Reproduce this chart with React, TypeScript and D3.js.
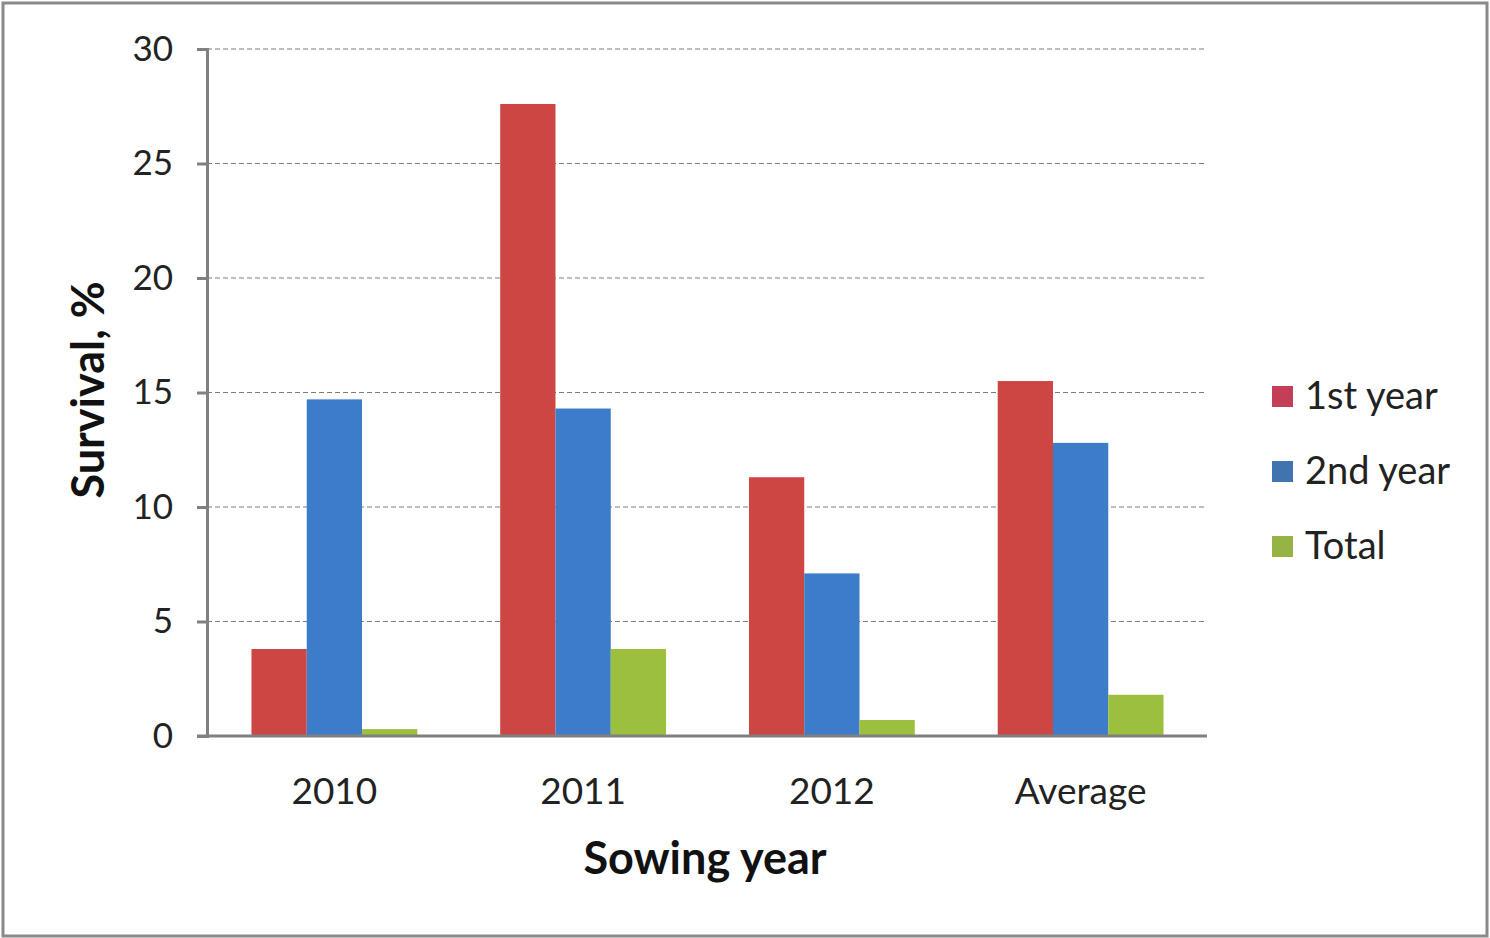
import React, { useEffect, useRef } from 'react';
import * as d3 from 'd3';

const categories = ['2010', '2011', '2012', 'Average'];
const seriesNames = ['1st year', '2nd year', 'Total'];
const firstYear = [3.8, 27.6, 11.3, 15.5];
const secondYear = [14.7, 14.3, 7.1, 12.8];
const total = [0.3, 3.8, 0.7, 1.8];
const yTicks = [0, 5, 10, 15, 20, 25, 30];

const colors = ['#cc4644', '#3d7cc8', '#9cbf3e'];
const legendColors = ['#c23f57', '#3f74ae', '#95b443'];

const App: React.FC = () => {
  const svgRef = useRef<SVGSVGElement>(null);

  useEffect(() => {
    if (!svgRef.current) return;
    const width = 1490;
    const height = 938;
    const font = 'Lato, "Open Sans", sans-serif';

    d3.select(svgRef.current).selectAll('*').remove();
    const svg = d3.select(svgRef.current).attr('width', width).attr('height', height);

    svg.append('rect').attr('width', width).attr('height', height).attr('fill', '#fff');
    // outer frame
    svg
      .append('rect')
      .attr('x', 3)
      .attr('y', 3)
      .attr('width', 1484)
      .attr('height', 933)
      .attr('fill', 'none')
      .attr('stroke', '#8a8a8a')
      .attr('stroke-width', 3);

    const left = 207;
    const right = 1205;
    const top = 49;
    const bottom = 736;

    const x = d3
      .scaleBand<string>()
      .domain(categories)
      .range([left + 3, right])
      .paddingInner(1 / 3)
      .paddingOuter(1 / 6);
    const xs = d3.scaleBand<string>().domain(seriesNames).range([0, x.bandwidth()]);
    const y = d3.scaleLinear().domain([0, 30]).range([bottom, top]);

    // gridlines
    svg
      .append('g')
      .selectAll('line')
      .data(yTicks.filter((t) => t > 0))
      .enter()
      .append('line')
      .attr('x1', left)
      .attr('x2', right)
      .attr('y1', (d) => y(d))
      .attr('y2', (d) => y(d))
      .attr('stroke', '#7c7c7c')
      .attr('stroke-width', 1.2)
      .attr('stroke-dasharray', '5,3');

    // bars
    const seriesData = [firstYear, secondYear, total];
    seriesData.forEach((vals, si) => {
      svg
        .append('g')
        .selectAll('rect')
        .data(vals)
        .enter()
        .append('rect')
        .attr('x', (_d, i) => (x(categories[i]) ?? 0) + (xs(seriesNames[si]) ?? 0))
        .attr('width', xs.bandwidth())
        .attr('y', (d) => y(d))
        .attr('height', (d) => y(0) - y(d))
        .attr('fill', colors[si]);
    });

    // y axis
    const yAxis = svg
      .append('g')
      .attr('transform', `translate(${left},0)`)
      .call(d3.axisLeft(y).tickValues(yTicks).tickSize(10).tickPadding(24));
    yAxis.select('.domain').attr('stroke', '#808080').attr('stroke-width', 3);
    yAxis.selectAll('.tick line').attr('stroke', '#808080').attr('stroke-width', 3);
    yAxis
      .selectAll('.tick text')
      .attr('font-family', font)
      .attr('font-size', 35)
      .attr('fill', '#222');

    // x axis
    svg
      .append('line')
      .attr('x1', left - 10)
      .attr('x2', right + 2)
      .attr('y1', bottom)
      .attr('y2', bottom)
      .attr('stroke', '#808080')
      .attr('stroke-width', 3);

    svg
      .append('g')
      .selectAll('text')
      .data(categories)
      .enter()
      .append('text')
      .attr('x', (d) => (x(d) ?? 0) + x.bandwidth() / 2)
      .attr('y', 791)
      .attr('dy', '0.35em')
      .attr('text-anchor', 'middle')
      .attr('font-family', font)
      .attr('font-size', 37)
      .attr('fill', '#222')
      .text((d) => d);

    // axis titles
    svg
      .append('text')
      .attr('x', 705)
      .attr('y', 858)
      .attr('dy', '0.35em')
      .attr('text-anchor', 'middle')
      .attr('font-family', font)
      .attr('font-weight', 'bold')
      .attr('font-size', 45)
      .attr('fill', '#111')
      .text('Sowing year');

    svg
      .append('text')
      .attr('transform', 'translate(88,390) rotate(-90)')
      .attr('dy', '0.35em')
      .attr('text-anchor', 'middle')
      .attr('font-family', font)
      .attr('font-weight', 'bold')
      .attr('font-size', 45)
      .attr('fill', '#111')
      .text('Survival, %');

    // legend
    const legend = svg
      .append('g')
      .selectAll('g')
      .data(seriesNames)
      .enter()
      .append('g')
      .attr('transform', (_d, i) => `translate(1272,${396 + i * 75})`);
    legend
      .append('rect')
      .attr('x', 0)
      .attr('y', -10)
      .attr('width', 21)
      .attr('height', 21)
      .attr('fill', (_d, i) => legendColors[i]);
    legend
      .append('text')
      .attr('x', 33)
      .attr('y', 0)
      .attr('dy', '0.35em')
      .attr('font-family', font)
      .attr('font-size', 38)
      .attr('fill', '#222')
      .text((d) => d);
  }, []);

  return <svg ref={svgRef} style={{ position: 'absolute', left: 0, top: 0 }}></svg>;
};

export default App;
